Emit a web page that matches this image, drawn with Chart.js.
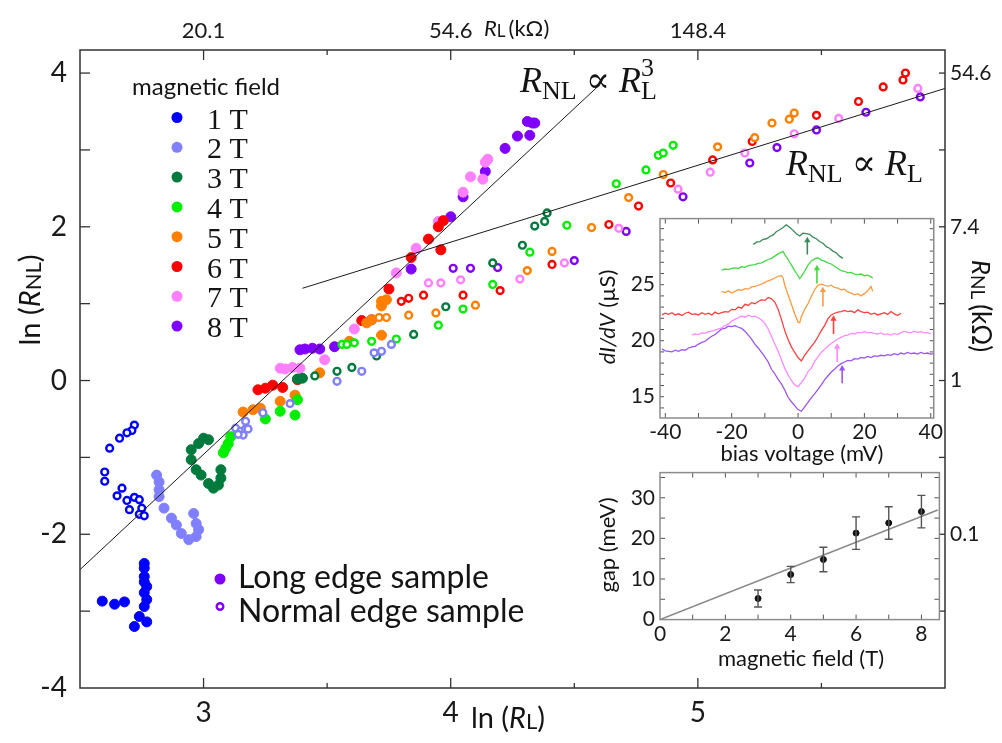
<!DOCTYPE html>
<html>
<head>
<meta charset="utf-8">
<script src="https://cdn.jsdelivr.net/npm/chart.js@4.4.1/dist/chart.umd.min.js"></script>
<style>
  html, body { margin: 0; padding: 0; background: #fff; }
  #wrap { position: relative; width: 1002px; height: 743px; overflow: hidden; }
  canvas { position: absolute; }
</style>
</head>
<body>
<div id="wrap">
  <canvas id="main" width="1002" height="743" style="left:0;top:0;width:1002px;height:743px"></canvas>
  <canvas id="didv" width="360" height="270" style="left:585px;top:200px;width:360px;height:270px"></canvas>
  <canvas id="gap" width="360" height="230" style="left:585px;top:455px;width:360px;height:230px"></canvas>
</div>
<script>
// ---------- main panel: ln(R_NL) versus ln(R_L) ----------
const fieldLabels = ['1 T', '2 T', '3 T', '4 T', '5 T', '6 T', '7 T', '8 T'];
const fieldColors = ['#0000ff', '#8080ff', '#007a3d', '#00ee00', '#ff8000', '#ff0000', '#ff80ff', '#8000ff'];

// long edge sample (filled markers)
const long1x = [2.59, 2.64, 2.68, 2.76, 2.76, 2.76, 2.76, 2.77, 2.77, 2.76, 2.74, 2.77, 2.72, 2.76];
const long1y = [-2.87, -2.91, -2.88, -2.38, -2.44, -2.55, -2.62, -2.68, -2.85, -2.94, -3.07, -3.14, -3.20, -2.76];
const long2x = [2.81, 2.82, 2.82, 2.82, 2.84, 2.87, 2.89, 2.91, 2.94, 2.97, 2.98, 2.97, 2.96];
const long2y = [-1.23, -1.32, -1.42, -1.51, -1.66, -1.79, -1.88, -1.99, -2.07, -2.03, -1.94, -1.86, -1.73];
const long3x = [3.00, 3.02, 2.98, 2.95, 2.95, 2.97, 2.99, 3.02, 3.04, 3.06, 3.07, 3.07, 3.40, 3.38];
const long3y = [-0.75, -0.77, -0.82, -0.90, -1.03, -1.16, -1.23, -1.34, -1.40, -1.36, -1.27, -1.16, 0.03, 0.02];
const long4x = [3.10, 3.11, 3.09, 3.08, 3.25, 3.31, 3.37, 3.38];
const long4y = [-0.82, -0.73, -0.88, -0.94, -0.50, -0.40, -0.45, -0.25];
const long5x = [3.16, 3.20, 3.23, 3.31, 3.37, 3.47, 3.59, 3.66, 3.68, 3.72, 3.72, 3.74, 3.72];
const long5y = [-0.41, -0.38, -0.36, -0.27, -0.19, 0.10, 0.51, 0.75, 0.79, 0.97, 1.03, 1.05, 0.59];
const long6x = [3.22, 3.25, 3.28, 3.32, 3.38, 3.64, 3.75, 3.84, 3.91, 3.96, 3.95, 3.97];
const long6y = [-0.12, -0.10, -0.06, -0.09, 0.01, 0.78, 1.19, 1.60, 1.84, 1.70, 2.00, 2.08];
const long7x = [3.31, 3.33, 3.36, 3.39, 3.49, 3.61, 3.78, 3.86, 3.95, 4.05, 4.08, 4.13, 4.14, 4.15];
const long7y = [0.16, 0.15, 0.17, 0.16, 0.27, 0.67, 1.40, 1.72, 2.07, 2.45, 2.65, 2.62, 2.84, 2.88];
const long8x = [3.39, 3.41, 3.44, 3.47, 3.53, 3.68, 3.84, 4.00, 4.05, 4.14, 4.22, 4.27, 4.32, 4.33, 4.31, 4.34];
const long8y = [0.40, 0.41, 0.42, 0.41, 0.44, 0.79, 1.45, 2.13, 2.39, 2.72, 3.02, 3.18, 3.19, 3.35, 3.37, 3.35];

// normal edge sample (open markers)
const norm1x = [2.72, 2.71, 2.69, 2.66, 2.62, 2.60, 2.60, 2.67, 2.65, 2.69, 2.72, 2.74, 2.70, 2.75, 2.74, 2.76];
const norm1y = [-0.58, -0.65, -0.68, -0.75, -0.88, -1.19, -1.31, -1.40, -1.50, -1.56, -1.52, -1.55, -1.68, -1.66, -1.74, -1.76];
const norm2x = [3.13, 3.15, 3.17, 3.18, 3.16, 3.14, 3.17, 3.24, 3.35, 3.54, 3.64, 3.69, 3.72, 3.76];
const norm2y = [-0.62, -0.66, -0.63, -0.63, -0.71, -0.70, -0.53, -0.42, -0.30, -0.01, 0.12, 0.36, 0.38, 0.47];
const norm3x = [3.45, 3.54, 3.60, 3.70, 3.85, 3.98, 4.17, 4.29, 4.34, 4.38, 4.39];
const norm3y = [0.06, 0.12, 0.17, 0.32, 0.60, 0.96, 1.53, 1.76, 2.01, 2.07, 2.18];
const norm4x = [3.56, 3.58, 3.61, 3.68, 3.78, 3.95, 4.05, 4.17, 4.32, 4.47, 4.67, 4.79, 4.84, 4.86, 4.90];
const norm4y = [0.47, 0.47, 0.49, 0.51, 0.54, 0.72, 0.93, 1.25, 1.67, 2.02, 2.56, 2.74, 2.93, 2.96, 3.06];
const norm5x = [3.71, 3.74, 3.83, 3.94, 4.10, 4.31, 4.41, 4.57, 4.72, 4.86, 5.08, 5.23, 5.30, 5.37, 5.39];
const norm5y = [0.82, 0.82, 0.85, 0.88, 0.98, 1.43, 1.68, 1.99, 2.38, 2.68, 3.04, 3.16, 3.35, 3.40, 3.48];
const norm6x = [3.80, 3.83, 3.89, 4.05, 4.20, 4.41, 4.64, 4.76, 4.89, 5.06, 5.22, 5.48, 5.65, 5.75, 5.83, 5.84];
const norm6y = [1.03, 1.07, 1.11, 1.11, 1.17, 1.51, 2.03, 2.27, 2.57, 2.87, 3.11, 3.45, 3.63, 3.82, 3.91, 4.00];
const norm7x = [3.91, 3.96, 4.04, 4.28, 4.46, 4.68, 4.92, 5.05, 5.19, 5.39, 5.57, 5.89];
const norm7y = [1.27, 1.27, 1.31, 1.32, 1.53, 1.98, 2.49, 2.71, 2.96, 3.21, 3.41, 3.80];
const norm8x = [4.01, 4.08, 4.19, 4.50, 4.71, 4.94, 5.21, 5.32, 5.48, 5.68, 5.90];
const norm8y = [1.46, 1.46, 1.47, 1.56, 1.94, 2.39, 2.83, 3.03, 3.26, 3.49, 3.69];

// power-law guide lines: slope 3 and slope 1
const cubicFitX = [2.5, 4.6];
const cubicFitY = [-2.46, 3.84];
const linearFitX = [3.4, 6.0];
const linearFitY = [1.2, 3.8];

// axis ticks
const lnRLTicks = [3, 3.5, 4, 4.5, 5, 5.5];
const lnRLLabels = ['3', '', '4', '', '5', ''];
const rlTopLabels = ['20.1', '', '54.6', '', '148.4', ''];
const lnRNLTicks = [-4, -3, -2, -1, 0, 1, 2, 3, 4];
const lnRNLLabels = ['-4', '', '-2', '', '0', '', '2', '', '4'];
const rnlRightLabels = ['', '', '0.1', '', '1', '', '7.4', '', '54.6'];

// ---------- inset: differential conductance versus bias ----------
const biasTicks = [-40, -30, -20, -10, 0, 10, 20, 30, 40];
const biasLabels = ['-40', '', '-20', '', '0', '', '20', '', '40'];
const dIdVTicks = [14, 15, 16, 17, 18, 19, 20, 21, 22, 23, 24, 25, 26, 27, 28, 29, 30];
const dIdVLabels = ['', '15', '', '', '', '', '20', '', '', '', '', '25', '', '', '', '', ''];

const curve3Tx = [-13.5, -12.5, -11.5, -10.5, -9.5, -8.5, -7.5, -6.5, -5.5, -4.5, -3.5, -2.5, -1.5, -0.5, 0.5, 1.5, 2.5, 3.5, 4.5, 5.5, 6.5, 7.5, 8.5, 9.5, 10.5, 11.5, 12.5, 13.5];
const curve3Ty = [28.60, 28.80, 28.85, 29.05, 29.10, 29.30, 29.45, 29.75, 29.90, 30.10, 30.35, 30.10, 29.85, 29.55, 29.35, 29.60, 29.55, 29.50, 29.25, 29.10, 28.85, 28.70, 28.40, 28.25, 28.00, 27.85, 27.55, 27.35];
const curve4Tx = [-23, -22, -21, -20, -19, -18, -17, -16, -15, -14, -13, -12, -11, -10, -9, -8, -7, -6, -5, -4.5, -4, -3, -2, -1, 0, 0.5, 1, 2, 3, 4, 5, 6, 7, 8, 9, 10, 11, 12, 13, 14, 15, 16, 17, 18, 19, 20, 21, 22, 22.5];
const curve4Ty = [26.30, 26.40, 26.35, 26.45, 26.50, 26.45, 26.60, 26.55, 26.70, 26.75, 26.80, 26.90, 26.95, 27.10, 27.25, 27.35, 27.55, 27.75, 27.90, 27.95, 27.70, 27.25, 26.75, 26.25, 25.80, 25.55, 25.75, 26.20, 26.75, 27.10, 27.30, 27.40, 27.20, 27.10, 26.95, 26.85, 26.65, 26.45, 26.25, 26.20, 26.05, 26.10, 25.95, 25.90, 25.95, 25.80, 25.85, 25.70, 25.60];
const curve5Tx = [-23, -22, -21, -20, -19, -18, -17, -16, -15, -14, -13, -12, -11, -10, -9, -8, -7, -6, -5, -4.5, -4, -3, -2, -1, 0, 0.5, 1, 2, 3, 4, 5, 6, 7, 8, 9, 10, 11, 12, 13, 14, 15, 16, 17, 18, 19, 20, 21, 22, 22.5];
const curve5Ty = [24.40, 24.30, 24.45, 24.25, 24.40, 24.55, 24.50, 24.65, 24.60, 24.80, 24.85, 24.95, 25.05, 25.20, 25.35, 25.45, 25.60, 25.75, 25.80, 25.60, 24.95, 24.10, 23.25, 22.40, 21.65, 21.60, 22.15, 22.80, 23.30, 23.95, 24.55, 24.95, 25.05, 24.95, 24.85, 24.95, 24.75, 24.70, 24.55, 24.60, 24.35, 24.25, 24.10, 24.20, 24.00, 24.20, 24.45, 24.85, 24.40];
const curve6Tx = [-41, -40, -39, -38, -37, -36, -35, -34, -33, -32, -31, -30, -29, -28, -27, -26, -25, -24, -23, -22, -21, -20, -19, -18, -17, -16, -15, -14, -13, -12, -11, -10, -9, -8, -7, -6, -5, -4, -3, -2, -1, 0, 1, 2, 3, 4, 5, 6, 7, 8, 9, 10, 11, 12, 13, 14, 15, 16, 17, 18, 19, 20, 21, 22, 23, 24, 25, 26, 27, 28, 29, 30, 31];
const curve6Ty = [22.30, 22.45, 22.35, 22.50, 22.30, 22.40, 22.25, 22.45, 22.55, 22.35, 22.40, 22.30, 22.50, 22.35, 22.45, 22.30, 22.55, 22.40, 22.50, 22.60, 22.55, 22.80, 22.75, 23.00, 22.90, 23.25, 23.15, 23.40, 23.30, 23.50, 23.65, 23.60, 23.85, 23.75, 23.45, 22.80, 21.90, 20.90, 20.10, 19.45, 18.95, 18.50, 18.20, 18.70, 19.10, 19.50, 19.85, 20.35, 20.90, 21.35, 21.95, 22.30, 22.45, 22.55, 22.60, 22.70, 22.60, 22.65, 22.50, 22.75, 22.60, 22.50, 22.55, 22.35, 22.45, 22.30, 22.40, 22.50, 22.35, 22.60, 22.40, 22.25, 22.45];
const curve7Tx = [-32, -31, -30, -29, -28, -27, -26, -25, -24, -23, -22, -21, -20, -19, -18, -17, -16, -15, -14, -13, -12, -11, -10, -9, -8, -7, -6, -5, -4, -3, -2, -1, 0, 1, 2, 3, 4, 5, 6, 7, 8, 9, 10, 11, 12, 13, 14, 15, 16, 17, 18, 19, 20, 21, 22, 23, 24, 25, 26, 27, 28, 29, 30, 31, 32, 33, 34, 35, 36, 37, 38, 39, 40];
const curve7Ty = [20.50, 20.60, 20.55, 20.70, 20.65, 20.80, 20.85, 20.95, 21.05, 21.15, 21.35, 21.50, 21.75, 21.90, 22.05, 22.20, 22.10, 22.25, 22.15, 22.20, 22.05, 21.85, 21.55, 21.05, 20.40, 19.70, 19.05, 18.30, 17.55, 16.95, 16.45, 16.05, 15.90, 16.25, 16.65, 17.25, 17.55, 18.15, 18.55, 18.95, 19.25, 19.50, 19.75, 19.95, 20.15, 20.30, 20.45, 20.50, 20.65, 20.60, 20.75, 20.70, 20.80, 20.70, 20.75, 20.65, 20.60, 20.70, 20.55, 20.60, 20.50, 20.65, 20.55, 20.70, 20.85, 20.75, 20.70, 20.85, 20.75, 20.80, 20.70, 20.75, 20.60];
const curve8Tx = [-41, -40, -39, -38, -37, -36, -35, -34, -33, -32, -31, -30, -29, -28, -27, -26, -25, -24, -23, -22, -21, -20, -19, -18, -17, -16, -15, -14, -13, -12, -11, -10, -9, -8, -7, -6, -5, -4, -3, -2, -1, 0, 1, 2, 3, 4, 5, 6, 7, 8, 9, 10, 11, 12, 13, 14, 15, 16, 17, 18, 19, 20, 21, 22, 23, 24, 25, 26, 27, 28, 29, 30, 31, 32, 33, 34, 35, 36, 37, 38, 39, 40, 41];
const curve8Ty = [19.25, 19.10, 19.05, 19.00, 19.15, 19.05, 19.20, 19.15, 19.35, 19.45, 19.50, 19.70, 19.85, 19.95, 20.20, 20.40, 20.55, 20.80, 21.05, 21.10, 21.30, 21.25, 21.35, 21.20, 21.10, 20.85, 20.50, 20.15, 19.70, 19.35, 18.95, 18.55, 18.10, 17.45, 17.05, 16.55, 16.15, 15.60, 14.95, 14.55, 14.20, 13.85, 13.70, 14.10, 14.50, 14.90, 15.25, 15.65, 16.05, 16.50, 16.85, 17.20, 17.45, 17.75, 17.95, 18.10, 18.25, 18.20, 18.40, 18.35, 18.50, 18.45, 18.60, 18.50, 18.65, 18.60, 18.70, 18.65, 18.75, 18.70, 18.85, 18.75, 18.90, 18.80, 18.95, 18.85, 18.90, 18.80, 18.95, 18.85, 18.90, 18.80, 18.85];
const curveColors = ['#3a8a5a', '#44d844', '#ff9a40', '#ff4040', '#ff8cff', '#9b55f0'];

// gap position markers (bias, base, tip)
const arrowBias = [2.8, 5.7, 7.5, 10.7, 11.8, 13.3];
const arrowBase = [27.7, 25.1, 23.05, 20.6, 18.1, 16.2];
const arrowTip = [28.95, 26.45, 24.5, 21.95, 19.45, 17.5];

// ---------- inset: gap versus magnetic field ----------
const gapField = [3, 4, 5, 6, 7, 8];
const gapValue = [5.2, 11.1, 14.8, 21.3, 23.8, 26.6];
const gapError = [2.1, 2.0, 3.0, 4.0, 4.0, 4.0];
const gapFitX = [0, 8.5];
const gapFitY = [0, 27.0];
const fieldTicks = [0, 1, 2, 3, 4, 5, 6, 7, 8];
const fieldTickLabels = ['0', '', '2', '', '4', '', '6', '', '8'];
const gapTicks = [0, 5, 10, 15, 20, 25, 30, 35];
const gapTickLabels = ['0', '', '10', '', '20', '', '30', ''];

// ---------- helpers ----------
const SANS = 'Lato, "Open Sans", sans-serif';
const SERIF = '"Liberation Serif", "DejaVu Serif", serif';
const toPoints = (xs, ys) => xs.map((x, i) => ({ x, y: ys[i] }));
const labelFrom = (ticks, labels) => (v) => {
  const i = ticks.indexOf(v);
  return i >= 0 ? labels[i] : '';
};
const fixedTicks = (vals) => (scale) => { scale.ticks = vals.map(v => ({ value: v })); };

// draws a run of differently styled text pieces on one baseline
function richText(ctx, x, y, segs, align, rot) {
  ctx.save();
  ctx.translate(x, y);
  ctx.rotate(rot || 0);
  ctx.textBaseline = 'alphabetic';
  ctx.textAlign = 'left';
  let w = 0;
  segs.forEach(s => { ctx.font = s.f; if (!s.stay) w += ctx.measureText(s.t).width + (s.gap || 0); });
  let cx = align === 'center' ? -w / 2 : 0;
  segs.forEach(s => {
    ctx.font = s.f;
    ctx.fillStyle = s.c || '#141414';
    ctx.fillText(s.t, cx, s.dy || 0);
    if (!s.stay) cx += ctx.measureText(s.t).width + (s.gap || 0);
  });
  ctx.restore();
}

// tick marks pointing into the plot area, plus the closed frame
const innerTicks = {
  id: 'innerTicks',
  afterDraw(chart, _args, opts) {
    const { ctx, chartArea: a } = chart;
    ctx.save();
    ctx.strokeStyle = opts.tickColor;
    ctx.lineWidth = opts.tickWidth;
    Object.values(chart.scales).forEach(s => {
      const lens = opts.lengths[s.id];
      if (!lens) return;
      s.ticks.forEach(t => {
        const len = (t.label !== '' && t.label != null) ? lens[0] : lens[1];
        const p = s.getPixelForValue(t.value);
        ctx.beginPath();
        if (s.isHorizontal()) {
          if (p < a.left + 1 || p > a.right - 1) return;
          if (s.position === 'bottom' || opts.both) { ctx.moveTo(p, a.bottom); ctx.lineTo(p, a.bottom - len); }
          if (s.position === 'top' || opts.both) { ctx.moveTo(p, a.top); ctx.lineTo(p, a.top + len); }
        } else {
          if (p < a.top + 1 || p > a.bottom - 1) return;
          if (s.position === 'left' || opts.both) { ctx.moveTo(a.left, p); ctx.lineTo(a.left + len, p); }
          if (s.position === 'right' || opts.both) { ctx.moveTo(a.right, p); ctx.lineTo(a.right - len, p); }
        }
        ctx.stroke();
      });
    });
    ctx.strokeStyle = opts.frameColor;
    ctx.lineWidth = opts.frameWidth;
    ctx.strokeRect(a.left, a.top, a.right - a.left, a.bottom - a.top);
    ctx.restore();
  }
};

const whiteArea = {
  id: 'whiteArea',
  beforeDraw(chart) {
    const { ctx, chartArea: a } = chart;
    ctx.save();
    ctx.fillStyle = '#fff';
    ctx.fillRect(a.left, a.top, a.right - a.left, a.bottom - a.top);
    ctx.restore();
  }
};

// ---------- main chart ----------
const longSeries = [[long1x, long1y], [long2x, long2y], [long3x, long3y], [long4x, long4y],
                    [long5x, long5y], [long6x, long6y], [long7x, long7y], [long8x, long8y]];
const normSeries = [[norm1x, norm1y], [norm2x, norm2y], [norm3x, norm3y], [norm4x, norm4y],
                    [norm5x, norm5y], [norm6x, norm6y], [norm7x, norm7y], [norm8x, norm8y]];

const mainSets = [
  { data: toPoints(cubicFitX, cubicFitY), showLine: true, borderColor: '#1a1a1a', borderWidth: 1, pointRadius: 0, order: -1 },
  { data: toPoints(linearFitX, linearFitY), showLine: true, borderColor: '#1a1a1a', borderWidth: 1, pointRadius: 0, order: -1 }
];
normSeries.forEach((s, i) => mainSets.push({
  data: toPoints(s[0], s[1]), pointRadius: 3.4, pointBorderWidth: 2.4,
  backgroundColor: '#ffffff', borderColor: fieldColors[i], showLine: false
}));
longSeries.forEach((s, i) => mainSets.push({
  data: toPoints(s[0], s[1]), pointRadius: 5, pointBorderWidth: 1,
  backgroundColor: fieldColors[i], borderColor: fieldColors[i], showLine: false
}));

const mainText = {
  id: 'mainText',
  afterDraw(chart) {
    const ctx = chart.ctx;
    // axis titles
    richText(ctx, 40, 300, [
      { t: 'ln (', f: `29px ${SANS}` }, { t: 'R', f: `italic 29px ${SANS}` },
      { t: 'NL', f: `22px ${SANS}`, dy: 1 }, { t: ')', f: `29px ${SANS}` }
    ], 'center', -Math.PI / 2);
    richText(ctx, 508, 728, [
      { t: 'ln (', f: `29px ${SANS}` }, { t: 'R', f: `italic 29px ${SANS}` },
      { t: 'L', f: `22px ${SANS}`, dy: 1 }, { t: ')', f: `29px ${SANS}` }
    ], 'center', 0);
    richText(ctx, 484, 36, [
      { t: 'R', f: `italic 22px ${SANS}` }, { t: 'L', f: `17px ${SANS}`, dy: 1, gap: 3 },
      { t: '(kΩ)', f: `22px ${SANS}` }
    ], 'left', 0);
    richText(ctx, 972, 306, [
      { t: 'R', f: `italic 26px ${SANS}` }, { t: 'NL', f: `19px ${SANS}`, dy: 1, gap: 5 },
      { t: '(kΩ)', f: `26px ${SANS}` }
    ], 'center', Math.PI / 2);

    // scaling annotations
    const big = `36px ${SERIF}`, bigI = `italic 36px ${SERIF}`, sub = `26px ${SERIF}`;
    richText(ctx, 520, 92, [
      { t: 'R', f: bigI }, { t: 'NL', f: sub, dy: 7 }, { t: ' ∝ ', f: big },
      { t: 'R', f: bigI }, { t: '3', f: sub, dy: -16, stay: true }, { t: 'L', f: sub, dy: 7 }
    ], 'left', 0);
    richText(ctx, 786, 175, [
      { t: 'R', f: bigI }, { t: 'NL', f: sub, dy: 7 }, { t: ' ∝ ', f: big },
      { t: 'R', f: bigI }, { t: 'L', f: sub, dy: 7 }
    ], 'left', 0);

    // field legend
    ctx.save();
    ctx.fillStyle = '#141414';
    ctx.font = `24px ${SANS}`;
    ctx.textBaseline = 'alphabetic';
    ctx.fillText('magnetic field', 132, 95);
    fieldLabels.forEach((lab, i) => {
      const y = 117.5 + 29.8 * i;
      ctx.fillStyle = fieldColors[i];
      ctx.beginPath(); ctx.arc(177, y, 5.5, 0, Math.PI * 2); ctx.fill();
      ctx.fillStyle = '#141414';
      ctx.font = `30px ${SERIF}`;
      ctx.fillText(lab, 207, y + 11);
    });
    // sample legend
    ctx.fillStyle = fieldColors[7];
    ctx.beginPath(); ctx.arc(220, 579, 5.5, 0, Math.PI * 2); ctx.fill();
    ctx.strokeStyle = fieldColors[7]; ctx.lineWidth = 2.4;
    ctx.beginPath(); ctx.arc(220, 606.5, 3.3, 0, Math.PI * 2); ctx.stroke();
    ctx.fillStyle = '#141414';
    ctx.font = `32px ${SANS}`;
    ctx.fillText('Long edge sample', 238, 588);
    ctx.fillText('Normal edge sample', 238, 622);
    ctx.restore();
  }
};

const axisFont = (size) => ({ family: SANS, size });

new Chart(document.getElementById('main'), {
  type: 'scatter',
  data: { datasets: mainSets },
  plugins: [innerTicks, mainText],
  options: {
    responsive: false, animation: false, events: [],
    layout: { padding: 0 },
    plugins: {
      legend: { display: false }, tooltip: { enabled: false },
      innerTicks: {
        lengths: { x: [10, 5], x2: [10, 5], y: [10, 10], y2: [6, 6] },
        tickColor: '#333', tickWidth: 1.3, frameColor: '#333', frameWidth: 1.5
      }
    },
    scales: {
      x: {
        type: 'linear', position: 'bottom', min: 2.5, max: 6,
        afterBuildTicks: fixedTicks(lnRLTicks), afterFit: (s) => { s.height = 55; },
        grid: { display: false, drawTicks: false }, border: { display: false },
        ticks: { callback: labelFrom(lnRLTicks, lnRLLabels), font: axisFont(28), color: '#1a1a1a', padding: 8, autoSkip: false, maxRotation: 0 }
      },
      x2: {
        type: 'linear', position: 'top', min: 2.5, max: 6,
        afterBuildTicks: fixedTicks(lnRLTicks), afterFit: (s) => { s.height = 50; },
        grid: { display: false, drawTicks: false }, border: { display: false },
        ticks: { callback: labelFrom(lnRLTicks, rlTopLabels), font: axisFont(22), color: '#1a1a1a', padding: 6, autoSkip: false, maxRotation: 0 }
      },
      y: {
        type: 'linear', position: 'left', min: -4, max: 4.3,
        afterBuildTicks: fixedTicks(lnRNLTicks), afterFit: (s) => { s.width = 80; },
        grid: { display: false, drawTicks: false }, border: { display: false },
        ticks: { callback: labelFrom(lnRNLTicks, lnRNLLabels), font: axisFont(28), color: '#1a1a1a', padding: 13, autoSkip: false }
      },
      y2: {
        type: 'linear', position: 'right', min: -4, max: 4.3,
        afterBuildTicks: fixedTicks(lnRNLTicks), afterFit: (s) => { s.width = 57; },
        grid: { display: false, drawTicks: false }, border: { display: false },
        ticks: { callback: labelFrom(lnRNLTicks, rnlRightLabels), font: axisFont(21), color: '#1a1a1a', padding: 5, autoSkip: false }
      }
    }
  }
});

// ---------- dI/dV inset ----------
const curveSeries = [[curve3Tx, curve3Ty], [curve4Tx, curve4Ty], [curve5Tx, curve5Ty],
                     [curve6Tx, curve6Ty], [curve7Tx, curve7Ty], [curve8Tx, curve8Ty]];
const dIdVSets = [];
curveSeries.forEach((s, i) => dIdVSets.push({
  data: toPoints(s[0], s[1]), showLine: true, borderColor: curveColors[i], borderWidth: 1.3,
  pointRadius: 0, tension: 0
}));
arrowBias.forEach((b, i) => dIdVSets.push({
  data: [{ x: b, y: arrowBase[i] }, { x: b, y: arrowTip[i] }], showLine: true,
  borderColor: curveColors[i], borderWidth: 1.6, backgroundColor: curveColors[i],
  pointRadius: [0, 3.6], pointStyle: 'triangle', pointBorderWidth: 0
}));

const dIdVText = {
  id: 'dIdVText',
  afterDraw(chart) {
    const ctx = chart.ctx;
    richText(ctx, 217, 261, [{ t: 'bias voltage (mV)', f: `22px ${SANS}` }], 'center', 0);
    richText(ctx, 30, 117, [
      { t: 'dI/dV', f: `italic 22px ${SANS}` }, { t: ' (µS)', f: `22px ${SANS}` }
    ], 'center', -Math.PI / 2);
  }
};

new Chart(document.getElementById('didv'), {
  type: 'scatter',
  data: { datasets: dIdVSets },
  plugins: [whiteArea, innerTicks, dIdVText],
  options: {
    responsive: false, animation: false, events: [],
    layout: { padding: { top: 18.6, right: 6, left: 0, bottom: 0 } },
    plugins: {
      legend: { display: false }, tooltip: { enabled: false },
      innerTicks: {
        lengths: { x: [5, 5], y: [4, 4] }, both: true,
        tickColor: '#555', tickWidth: 1, frameColor: '#8c8c8c', frameWidth: 1.5
      }
    },
    scales: {
      x: {
        type: 'linear', min: -41.6, max: 40.9,
        afterBuildTicks: fixedTicks(biasTicks), afterFit: (s) => { s.height = 52; },
        grid: { display: false, drawTicks: false }, border: { display: false },
        ticks: { callback: labelFrom(biasTicks, biasLabels), font: axisFont(21), color: '#1a1a1a', padding: 2, autoSkip: false, maxRotation: 0 }
      },
      y: {
        type: 'linear', min: 13.1, max: 30.9,
        afterBuildTicks: fixedTicks(dIdVTicks), afterFit: (s) => { s.width = 75; },
        grid: { display: false, drawTicks: false }, border: { display: false },
        ticks: { callback: labelFrom(dIdVTicks, dIdVLabels), font: axisFont(21), color: '#1a1a1a', padding: 5, autoSkip: false }
      }
    }
  }
});

// ---------- gap inset ----------
const errorBars = {
  id: 'errorBars',
  afterDatasetsDraw(chart) {
    const { ctx, scales: { x, y } } = chart;
    ctx.save();
    ctx.strokeStyle = '#555';
    ctx.lineWidth = 1.4;
    gapField.forEach((f, i) => {
      const px = x.getPixelForValue(f);
      const lo = y.getPixelForValue(gapValue[i] - gapError[i]);
      const hi = y.getPixelForValue(gapValue[i] + gapError[i]);
      ctx.beginPath();
      ctx.moveTo(px, lo); ctx.lineTo(px, hi);
      ctx.moveTo(px - 4, lo); ctx.lineTo(px + 4, lo);
      ctx.moveTo(px - 4, hi); ctx.lineTo(px + 4, hi);
      ctx.stroke();
    });
    ctx.restore();
  }
};

const gapText = {
  id: 'gapText',
  afterDraw(chart) {
    const ctx = chart.ctx;
    richText(ctx, 216, 211, [{ t: 'magnetic field (T)', f: `22px ${SANS}` }], 'center', 0);
    richText(ctx, 30, 90, [{ t: 'gap (meV)', f: `22px ${SANS}` }], 'center', -Math.PI / 2);
  }
};

new Chart(document.getElementById('gap'), {
  type: 'scatter',
  data: {
    datasets: [
      { data: toPoints(gapFitX, gapFitY), showLine: true, borderColor: '#8a8a8a', borderWidth: 1.5, pointRadius: 0, order: 1 },
      { data: toPoints(gapField, gapValue), pointRadius: 3, backgroundColor: '#111', borderColor: '#111', showLine: false, order: 0 }
    ]
  },
  plugins: [whiteArea, errorBars, innerTicks, gapText],
  options: {
    responsive: false, animation: false, events: [],
    layout: { padding: { top: 15, right: 5.6, left: 0, bottom: 0 } },
    plugins: {
      legend: { display: false }, tooltip: { enabled: false },
      innerTicks: {
        lengths: { x: [5, 5], y: [5, 5] }, both: true,
        tickColor: '#555', tickWidth: 1, frameColor: '#8c8c8c', frameWidth: 1.5
      }
    },
    scales: {
      x: {
        type: 'linear', min: 0, max: 8.55,
        afterBuildTicks: fixedTicks(fieldTicks), afterFit: (s) => { s.height = 65.4; },
        grid: { display: false, drawTicks: false }, border: { display: false },
        ticks: { callback: labelFrom(fieldTicks, fieldTickLabels), font: axisFont(21), color: '#1a1a1a', padding: 2, autoSkip: false, maxRotation: 0 }
      },
      y: {
        type: 'linear', min: 0, max: 36.2,
        afterBuildTicks: fixedTicks(gapTicks), afterFit: (s) => { s.width = 75; },
        grid: { display: false, drawTicks: false }, border: { display: false },
        ticks: { callback: labelFrom(gapTicks, gapTickLabels), font: axisFont(21), color: '#1a1a1a', padding: 5, autoSkip: false }
      }
    }
  }
});
</script>
</body>
</html>
